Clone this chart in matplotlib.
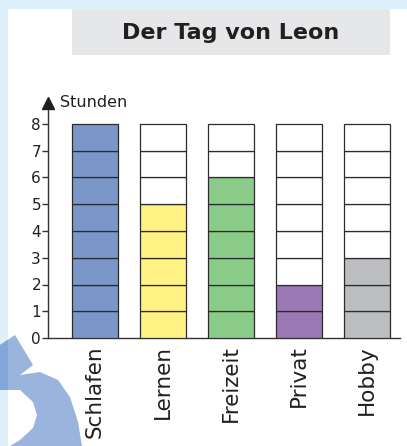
import matplotlib
matplotlib.use("Agg")
import matplotlib.pyplot as plt
from matplotlib.patches import Rectangle, Polygon

# data
categories = ["Schlafen", "Lernen", "Freizeit", "Privat", "Hobby"]
hours = [8, 5, 6, 2, 3]
colors = ["#7b97c9", "#fff183", "#8bcb89", "#9c79b5", "#bcbdc0"]
max_hours = 8
y_ticks = list(range(0, 9))

W, H = 407, 446
fig = plt.figure(figsize=(W / 100, H / 100), dpi=100)
fig.patch.set_facecolor("#def0f9")


def px(x, y):
    # pixel coords (top-left origin) -> figure fraction
    return x / W, 1 - y / H


# white panel
fig.patches.append(Rectangle(px(8, 446), (W - 8) / W, (446 - 9) / H,
                             transform=fig.transFigure, facecolor="white",
                             edgecolor="none", zorder=0))

# decorative shape bottom left
shape_px = [(0, 345), (15, 335), (33, 365), (20, 375), (40, 372), (58, 380),
            (70, 397), (78, 422), (82, 446), (10, 446), (20, 440), (33, 428),
            (37, 415), (33, 402), (20, 390), (0, 390)]
fig.patches.append(Polygon([px(x, y) for x, y in shape_px], closed=True,
                           transform=fig.transFigure, facecolor="#9bb4dd",
                           edgecolor="none", zorder=1))
strip_part = Polygon([px(x, y) for x, y in shape_px], closed=True,
                     transform=fig.transFigure, facecolor="#83a7db",
                     edgecolor="none", zorder=2)
clip = Rectangle(px(0, 446), 8 / W, 1, transform=fig.transFigure)
fig.patches.append(strip_part)
strip_part.set_clip_path(clip)

# title box
fig.patches.append(Rectangle(px(72, 55), (390 - 72) / W, (55 - 9) / H,
                             transform=fig.transFigure, facecolor="#e6e7e9",
                             edgecolor="none", zorder=1))
fig.text(*px(231, 33), "Der Tag von Leon", ha="center", va="center",
         fontsize=16, fontweight="bold", color="#231f20", zorder=3)

# axes
left, right = 48, 400
bottom, unit = 338, 26.75
ymax = 8.8
ax = fig.add_axes([left / W, 1 - bottom / H, (right - left) / W, ymax * unit / H])
ax.set_facecolor("none")
ax.set_zorder(5)

x = range(len(categories))
for i in x:
    for k in range(max_hours):
        fill = colors[i] if k < hours[i] else "white"
        ax.bar(i, 1, bottom=k, width=46 / 68, color=fill,
               edgecolor="#2b2b2b", linewidth=0.9, zorder=3)

ax.set_xlim(-(95 - left) / 68, (right - 95) / 68)
ax.set_ylim(0, ymax)

for s in ["top", "right"]:
    ax.spines[s].set_visible(False)
ax.spines["left"].set_color("#333333")
ax.spines["bottom"].set_color("#333333")
ax.spines["left"].set_linewidth(1.0)
ax.spines["bottom"].set_linewidth(1.0)

ax.set_yticks(y_ticks)
ax.set_yticklabels([str(t) for t in y_ticks], fontsize=11, color="#231f20")
ax.tick_params(axis="y", length=4, width=1, color="#333333", pad=1)
ax.set_xticks(list(x))
ax.set_xticklabels(categories, rotation=90, fontsize=15.5, color="#231f20")
ax.tick_params(axis="x", length=0, pad=5)

# arrow head on y axis
ax.plot([0], [1], marker="^", markersize=8, color="#231f20",
        transform=ax.transAxes, clip_on=False, zorder=5)
ax.text(0.035, 1.0, "Stunden", transform=ax.transAxes, fontsize=11.5,
        color="#231f20", va="center", ha="left")

fig.savefig("out.png", dpi=100, facecolor=fig.get_facecolor())
